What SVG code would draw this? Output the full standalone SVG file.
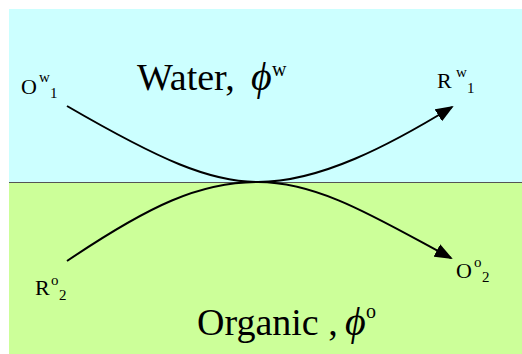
<svg xmlns="http://www.w3.org/2000/svg" width="522" height="354" viewBox="0 0 522 354">
<style>
.t{font-family:"Liberation Serif","Times New Roman",serif;fill:#000}
.big{font-size:38px}
.lab{font-size:22px}
.sm{font-size:15px}
.sup{font-size:20px}
.ph{font-style:italic;font-size:40px}
.c{fill:none;stroke:#000;stroke-width:2}
</style>
<defs>
<marker id="ah" markerUnits="userSpaceOnUse" markerWidth="18" markerHeight="14" viewBox="0 0 18 14" refX="16" refY="7" orient="auto">
<path d="M0,0 L18,7 L0,14 z" fill="#000"/>
</marker>
</defs>
<rect width="522" height="354" fill="#fff"/>
<g id="water">
<rect x="9" y="9" width="513" height="173" fill="#CCFFFF"/>
<text class="t big" x="137" y="90">Water,</text>
<text class="t ph" x="251" y="90">ϕ</text>
<text class="t sup" x="272" y="76">w</text>
</g>
<g id="organic">
<rect x="9" y="182" width="513" height="172" fill="#CCFF99"/>
<text class="t big" x="197" y="335">Organic ,</text>
<text class="t ph" x="345" y="335">ϕ</text>
<text class="t sup" x="366" y="318">o</text>
</g>
<line x1="9" y1="182.5" x2="522" y2="182.5" stroke="#555" stroke-width="1"/>
<g id="connectors">
<path class="c" d="M67,106 C160,160 210,182 258,182 C320,182 390,145 452,107" marker-end="url(#ah)"/>
<path class="c" d="M67,261 C150,205 200,182 258,182 C320,182 380,220 451,258" marker-end="url(#ah)"/>
</g>
<g id="Ow1">
<text class="t lab" x="21" y="94">O</text>
<text class="t sm" x="39" y="82">w</text>
<text class="t sm" x="50" y="98">1</text>
</g>
<g id="Rw1">
<text class="t lab" x="437" y="88">R</text>
<text class="t sm" x="456" y="77">w</text>
<text class="t sm" x="467" y="93">1</text>
</g>
<g id="Ro2">
<text class="t lab" x="35" y="295">R</text>
<text class="t sm" x="51" y="285">o</text>
<text class="t sm" x="59" y="300">2</text>
</g>
<g id="Oo2">
<text class="t lab" x="456" y="278">O</text>
<text class="t sm" x="474" y="267">o</text>
<text class="t sm" x="482" y="282">2</text>
</g>
</svg>
